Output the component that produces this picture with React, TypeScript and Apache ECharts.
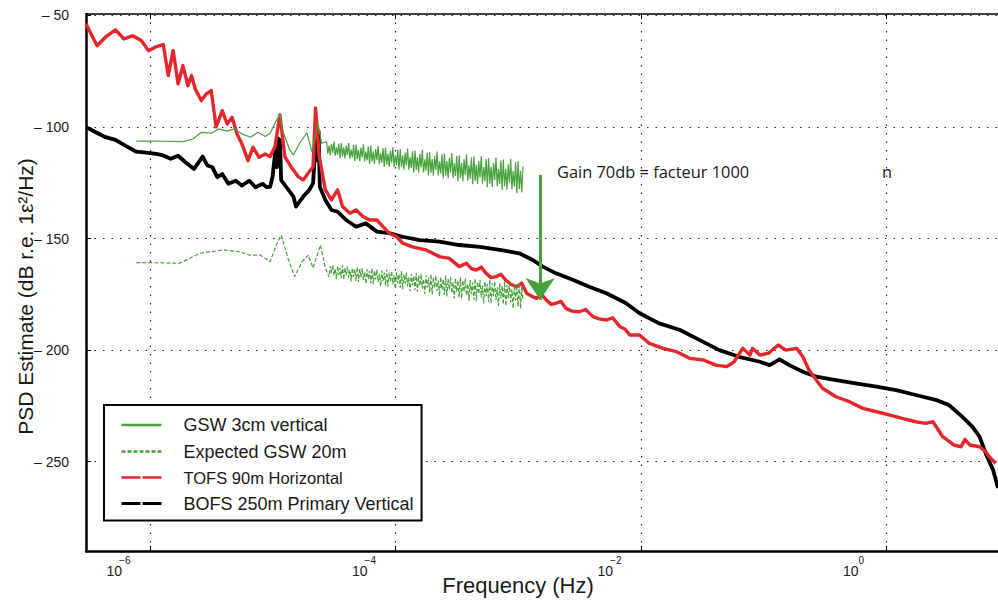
import React, { useEffect, useRef } from 'react';
import * as echarts from 'echarts';

// x values are log10(frequency / Hz), y values are dB
const xTicks = [-6, -4, -2, 0];
const xTickBase = '10';
const xTickExponents = ['−6', '−4', '−2', '0'];
const yTicks = [-250, -200, -150, -100, -50];
const yTickLabels = ['– 250', '– 200', '– 150', '– 100', '– 50'];

const seriesNames = ['GSW 3cm vertical', 'Expected GSW 20m', 'TOFS 90m Horizontal', 'BOFS 250m Primary Vertical'];

const gsw3cm = [
  [-6.11, -106.4], [-5.98, -106.3], [-5.73, -106.6], [-5.65, -105.4], [-5.58, -102.4], [-5.5, -102.8], [-5.44, -100.9],
  [-5.37, -101.9], [-5.31, -100.9], [-5.25, -103.1], [-5.18, -104.6], [-5.12, -102.4], [-5.06, -104.3], [-5.02, -102.8],
  [-4.98, -98.3], [-4.94, -94.2], [-4.92, -101.3], [-4.86, -110.3], [-4.83, -112.6], [-4.78, -107.3], [-4.72, -102.6],
  [-4.68, -111.1], [-4.63, -98.3], [-4.6, -107.3],
  [-4.56, -106.5], [-4.55, -112.0], [-4.54, -108.4], [-4.53, -112.8], [-4.52, -107.7], [-4.51, -111.5], [-4.5, -106.5],
  [-4.49, -112.9], [-4.48, -109.2], [-4.47, -112.5], [-4.46, -107.4], [-4.45, -114.0], [-4.44, -107.2], [-4.43, -113.2],
  [-4.42, -109.3], [-4.41, -114.1], [-4.4, -108.4], [-4.39, -112.6], [-4.38, -107.2], [-4.37, -114.2], [-4.36, -110.1],
  [-4.35, -113.7], [-4.34, -108.1], [-4.33, -115.3], [-4.32, -107.9], [-4.31, -114.4], [-4.3, -110.2], [-4.29, -115.4],
  [-4.28, -109.2], [-4.27, -113.7], [-4.26, -107.8], [-4.25, -115.4], [-4.24, -111.0], [-4.23, -114.9], [-4.22, -108.8],
  [-4.21, -116.6], [-4.2, -108.5], [-4.19, -115.6], [-4.18, -111.0], [-4.17, -116.6], [-4.16, -109.9], [-4.15, -114.8],
  [-4.14, -108.5], [-4.13, -116.7], [-4.12, -111.8], [-4.11, -116.0], [-4.1, -109.5], [-4.09, -117.9], [-4.08, -109.2],
  [-4.07, -116.9], [-4.06, -111.9], [-4.05, -117.9], [-4.04, -110.7], [-4.03, -116.0], [-4.02, -109.1], [-4.01, -117.9],
  [-4.0, -112.7], [-3.99, -117.2], [-3.98, -110.2], [-3.97, -119.2], [-3.96, -109.9], [-3.95, -118.1], [-3.94, -112.7],
  [-3.93, -119.2], [-3.92, -111.5], [-3.91, -117.1], [-3.9, -109.7], [-3.89, -119.2], [-3.88, -113.6], [-3.87, -118.4],
  [-3.86, -110.9], [-3.85, -120.5], [-3.84, -110.6], [-3.83, -119.3], [-3.82, -113.6], [-3.81, -120.5], [-3.8, -112.2],
  [-3.79, -118.2], [-3.78, -110.4], [-3.77, -120.4], [-3.76, -114.5], [-3.75, -119.6], [-3.74, -111.6], [-3.73, -121.8],
  [-3.72, -111.2], [-3.71, -120.5], [-3.7, -114.4], [-3.69, -121.8], [-3.68, -113.0], [-3.67, -119.3], [-3.66, -111.0],
  [-3.65, -121.6], [-3.64, -115.4], [-3.63, -120.8], [-3.62, -112.3], [-3.61, -123.1], [-3.6, -111.9], [-3.59, -121.7],
  [-3.58, -115.3], [-3.57, -123.0], [-3.56, -113.8], [-3.55, -120.5], [-3.54, -111.7], [-3.53, -122.9], [-3.52, -116.3],
  [-3.51, -122.0], [-3.5, -113.0], [-3.49, -124.4], [-3.48, -112.6], [-3.47, -122.9], [-3.46, -116.1], [-3.45, -124.3],
  [-3.44, -114.5], [-3.43, -121.6], [-3.42, -112.3], [-3.41, -124.1], [-3.4, -117.2], [-3.39, -123.2], [-3.38, -113.7],
  [-3.37, -125.7], [-3.36, -113.3], [-3.35, -124.2], [-3.34, -117.0], [-3.33, -125.6], [-3.32, -115.3], [-3.31, -122.7],
  [-3.3, -113.0], [-3.29, -125.4], [-3.28, -118.0], [-3.27, -124.3], [-3.26, -114.4], [-3.25, -127.0], [-3.24, -113.9],
  [-3.23, -125.4], [-3.22, -117.8], [-3.21, -126.9], [-3.2, -116.1], [-3.19, -123.8], [-3.18, -113.6], [-3.17, -126.6],
  [-3.16, -118.9], [-3.15, -125.5], [-3.14, -115.1], [-3.13, -128.4], [-3.12, -114.6], [-3.11, -126.6], [-3.1, -118.7],
  [-3.09, -128.1], [-3.08, -116.8], [-3.07, -125.0], [-3.06, -114.3], [-3.05, -127.9], [-3.04, -119.8], [-3.03, -126.7],
  [-3.02, -115.8], [-3.01, -129.7], [-3.0, -115.3], [-2.99, -127.8], [-2.98, -119.6], [-2.97, -129.4], [-2.96, -117.6],
];

const gswExpected = [
  [-6.11, -160.8], [-6.0, -160.8], [-5.76, -161.1], [-5.59, -156.6], [-5.4, -155.1], [-5.27, -155.9], [-5.19, -157.4],
  [-5.1, -157.4], [-5.02, -160.4], [-4.97, -152.9], [-4.93, -148.4], [-4.87, -159.6], [-4.82, -167.1], [-4.76, -160.4],
  [-4.71, -157.4], [-4.67, -163.2], [-4.61, -152.9], [-4.57, -163.2],
  [-4.54, -167.3], [-4.53, -162.3], [-4.52, -165.5], [-4.51, -161.9], [-4.5, -166.5], [-4.49, -163.4], [-4.48, -168.1],
  [-4.47, -162.4], [-4.46, -166.3], [-4.45, -163.1], [-4.44, -167.9], [-4.43, -162.0], [-4.42, -168.4], [-4.41, -163.0],
  [-4.4, -166.4], [-4.39, -162.5], [-4.38, -167.5], [-4.37, -164.2], [-4.36, -169.2], [-4.35, -163.1], [-4.34, -167.2],
  [-4.33, -163.8], [-4.32, -169.0], [-4.31, -162.7], [-4.3, -169.5], [-4.29, -163.7], [-4.28, -167.4], [-4.27, -163.2],
  [-4.26, -168.5], [-4.25, -165.0], [-4.24, -170.3], [-4.23, -163.8], [-4.22, -168.2], [-4.21, -164.5], [-4.2, -170.0],
  [-4.19, -163.3], [-4.18, -170.5], [-4.17, -164.4], [-4.16, -168.3], [-4.15, -163.9], [-4.14, -169.5], [-4.13, -165.7],
  [-4.12, -171.4], [-4.11, -164.4], [-4.1, -169.1], [-4.09, -165.3], [-4.08, -171.1], [-4.07, -163.9], [-4.06, -171.6],
  [-4.05, -165.2], [-4.04, -169.2], [-4.03, -164.5], [-4.02, -170.5], [-4.01, -166.5], [-4.0, -172.5], [-3.99, -165.1],
  [-3.98, -170.1], [-3.97, -166.0], [-3.96, -172.1], [-3.95, -164.6], [-3.94, -172.7], [-3.93, -165.9], [-3.92, -170.2],
  [-3.91, -165.2], [-3.9, -171.5], [-3.89, -167.3], [-3.88, -173.6], [-3.87, -165.8], [-3.86, -171.0], [-3.85, -166.7],
  [-3.84, -173.2], [-3.83, -165.3], [-3.82, -173.8], [-3.81, -166.6], [-3.8, -171.1], [-3.79, -165.9], [-3.78, -172.5],
  [-3.77, -168.1], [-3.76, -174.7], [-3.75, -166.5], [-3.74, -172.0], [-3.73, -167.5], [-3.72, -174.3], [-3.71, -165.9],
  [-3.7, -174.9], [-3.69, -167.3], [-3.68, -172.0], [-3.67, -166.6], [-3.66, -173.5], [-3.65, -168.8], [-3.64, -175.8],
  [-3.63, -167.2], [-3.62, -172.9], [-3.61, -168.2], [-3.6, -175.3], [-3.59, -166.6], [-3.58, -175.9], [-3.57, -168.0],
  [-3.56, -173.0], [-3.55, -167.2], [-3.54, -174.5], [-3.53, -169.6], [-3.52, -176.9], [-3.51, -167.9], [-3.5, -173.9],
  [-3.49, -168.9], [-3.48, -176.4], [-3.47, -167.2], [-3.46, -177.0], [-3.45, -168.7], [-3.44, -173.9], [-3.43, -167.9],
  [-3.42, -175.5], [-3.41, -170.4], [-3.4, -178.0], [-3.39, -168.6], [-3.38, -174.9], [-3.37, -169.7], [-3.36, -177.4],
  [-3.35, -167.9], [-3.34, -178.1], [-3.33, -169.4], [-3.32, -174.8], [-3.31, -168.6], [-3.3, -176.5], [-3.29, -171.1],
  [-3.28, -179.1], [-3.27, -169.3], [-3.26, -175.8], [-3.25, -170.4], [-3.24, -178.5], [-3.23, -168.5], [-3.22, -179.2],
  [-3.21, -170.1], [-3.2, -175.8], [-3.19, -169.2], [-3.18, -177.5], [-3.17, -171.9], [-3.16, -180.2], [-3.15, -170.0],
  [-3.14, -176.8], [-3.13, -171.1], [-3.12, -179.5], [-3.11, -169.1], [-3.1, -180.3], [-3.09, -170.8], [-3.08, -176.7],
  [-3.07, -169.9], [-3.06, -178.5], [-3.05, -172.7], [-3.04, -181.3], [-3.03, -170.7], [-3.02, -177.7], [-3.01, -171.9],
  [-3.0, -180.6], [-2.99, -169.8], [-2.98, -181.3], [-2.97, -171.5], [-2.96, -177.7],
];

const tofs90m = [
  [-6.52, -53.8], [-6.43, -63.6], [-6.36, -59.7], [-6.28, -56.5], [-6.21, -60.6], [-6.14, -59.1], [-6.07, -61.3],
  [-6.01, -65.9], [-5.95, -64.1], [-5.89, -63.1], [-5.85, -77.0], [-5.81, -65.8], [-5.77, -80.7], [-5.73, -72.5],
  [-5.69, -81.5], [-5.66, -77.0], [-5.63, -83.0], [-5.58, -88.2], [-5.54, -85.2], [-5.5, -83.7], [-5.46, -100.0],
  [-5.41, -92.7], [-5.37, -98.7], [-5.33, -95.7], [-5.29, -103.1], [-5.25, -107.6], [-5.2, -115.1], [-5.16, -109.1],
  [-5.11, -113.6], [-5.06, -112.1], [-5.02, -113.3], [-4.98, -108.8], [-4.94, -94.6], [-4.9, -113.3], [-4.85, -117.8],
  [-4.79, -122.3], [-4.75, -123.8], [-4.71, -120.8], [-4.67, -117.8], [-4.65, -91.5], [-4.62, -113.3], [-4.57, -128.2],
  [-4.52, -132.7], [-4.47, -128.2], [-4.43, -135.7], [-4.37, -138.7], [-4.32, -137.2], [-4.26, -140.2], [-4.21, -141.7],
  [-4.15, -141.7], [-4.1, -144.7], [-4.05, -147.6], [-3.99, -149.2], [-3.94, -152.1], [-3.86, -153.7], [-3.75, -155.1],
  [-3.64, -158.1], [-3.56, -158.9], [-3.48, -162.6], [-3.42, -161.1], [-3.38, -163.5], [-3.34, -164.1], [-3.3, -162.8],
  [-3.26, -165.6], [-3.22, -167.5], [-3.18, -167.1], [-3.14, -166.0], [-3.1, -168.6], [-3.06, -170.5], [-3.01, -171.6],
  [-2.97, -170.0], [-2.93, -174.5], [-2.89, -175.8], [-2.85, -176.8], [-2.81, -175.0], [-2.77, -177.5], [-2.73, -179.5],
  [-2.69, -179.0], [-2.65, -178.2], [-2.61, -181.3], [-2.56, -182.5], [-2.5, -182.8], [-2.45, -181.8], [-2.39, -185.0],
  [-2.34, -186.0], [-2.28, -186.5], [-2.23, -185.5], [-2.17, -189.5], [-2.13, -190.5], [-2.09, -193.2], [-2.01, -193.2],
  [-1.93, -197.0], [-1.82, -199.2], [-1.71, -200.7], [-1.6, -203.7], [-1.49, -204.4], [-1.39, -206.7], [-1.3, -207.4],
  [-1.24, -205.2], [-1.17, -199.2], [-1.11, -202.2], [-1.09, -199.2], [-1.03, -202.2], [-0.96, -201.4], [-0.88, -197.7],
  [-0.82, -200.0], [-0.73, -199.2], [-0.68, -203.0], [-0.63, -208.9], [-0.57, -213.4], [-0.52, -217.1], [-0.41, -220.9],
  [-0.3, -223.1], [-0.19, -226.1], [-0.08, -227.6], [0.03, -229.1], [0.13, -230.6], [0.24, -232.1], [0.32, -232.8],
  [0.38, -232.1], [0.46, -238.8], [0.55, -242.5], [0.61, -243.3], [0.64, -240.0], [0.68, -242.5], [0.76, -243.3],
  [0.81, -245.5], [0.84, -247.8], [0.89, -250.7],
];

const bofs250m = [
  [-6.52, -100.1], [-6.44, -102.4], [-6.36, -104.6], [-6.28, -105.8], [-6.2, -108.4], [-6.11, -111.1], [-6.03, -111.5],
  [-5.95, -112.1], [-5.9, -112.6], [-5.83, -114.3], [-5.77, -112.9], [-5.71, -115.8], [-5.64, -118.8], [-5.57, -113.3],
  [-5.53, -117.3], [-5.49, -118.1], [-5.45, -122.5], [-5.41, -121.1], [-5.36, -125.5], [-5.3, -124.1], [-5.25, -126.3],
  [-5.19, -124.1], [-5.14, -127.0], [-5.08, -125.5], [-5.05, -127.0], [-5.02, -126.8], [-5.0, -122.3], [-4.98, -112.0],
  [-4.97, -106.6], [-4.965, -118.0], [-4.955, -105.1], [-4.945, -116.0], [-4.94, -105.8], [-4.93, -123.8], [-4.89, -126.8],
  [-4.83, -131.2], [-4.81, -135.7], [-4.75, -131.2], [-4.7, -128.2], [-4.67, -125.2], [-4.655, -112.0], [-4.645, -99.5],
  [-4.635, -115.0], [-4.625, -102.0], [-4.615, -126.8], [-4.57, -132.7], [-4.52, -137.2], [-4.47, -138.0], [-4.4, -141.7],
  [-4.32, -144.7], [-4.24, -143.2], [-4.15, -146.9], [-4.05, -147.6], [-3.94, -149.2], [-3.8, -150.7], [-3.64, -151.4],
  [-3.48, -152.9], [-3.31, -153.7], [-3.15, -155.1], [-2.99, -156.6], [-2.88, -159.6], [-2.8, -162.6], [-2.69, -165.6],
  [-2.55, -168.6], [-2.42, -171.6], [-2.28, -174.5], [-2.12, -179.0], [-2.01, -183.5], [-1.85, -188.0], [-1.68, -191.0],
  [-1.52, -195.5], [-1.36, -200.0], [-1.2, -203.0], [-1.03, -205.2], [-0.95, -206.7], [-0.87, -204.1], [-0.79, -206.7],
  [-0.68, -209.7], [-0.57, -211.9], [-0.41, -213.4], [-0.25, -214.9], [-0.08, -216.4], [0.08, -217.9], [0.24, -220.1],
  [0.41, -222.4], [0.51, -224.6], [0.62, -229.9], [0.7, -234.3], [0.76, -238.8], [0.81, -246.3], [0.87, -253.7],
  [0.91, -261.8],
];

const gainArrowX = -2.82;
const gainArrowDb = [-121.5, -177.5];
const gainText = 'Gain 70db = facteur 1000';

const GREEN = '#46a23b';
const RED = '#e5262b';
const BLACK = '#000000';
const FONT = '"Liberation Sans", Arial, Helvetica, sans-serif';

export default function App() {
  const ref = useRef<HTMLDivElement>(null);
  useEffect(() => {
    if (!ref.current) return;
    const chart = echarts.init(ref.current, undefined, { renderer: 'svg' });
    const X_MIN = -6.52;
    const X_MAX = 0.91;
    const dotted = { color: '#222', width: 1.2, type: [1.5, 7] as number[] };
    const option: any = {
      animation: false,
      backgroundColor: '#ffffff',
      textStyle: { fontFamily: FONT },
      grid: { left: 86, top: 14, right: 0, bottom: 50, containLabel: false, outerBoundsMode: 'none' },
      xAxis: [
        {
          type: 'value',
          min: X_MIN,
          max: X_MAX,
          position: 'bottom',
          name: 'Frequency (Hz)',
          nameLocation: 'middle',
          nameGap: 23,
          nameMoveOverlap: false,
          nameTextStyle: { fontSize: 22, color: '#1a1a1a', fontFamily: FONT, padding: [0, 48, 0, 0] },
          axisLine: { show: true, onZero: false, lineStyle: { color: BLACK, width: 2.5 } },
          axisTick: { show: true, inside: true, length: 5, customValues: xTicks, lineStyle: { color: BLACK, width: 1 } },
          axisLabel: {
            customValues: xTicks,
            margin: 13,
            fontSize: 14,
            color: '#1a1a1a',
            fontFamily: FONT,
            padding: [0, 71, 0, 0],
            formatter: () => xTickBase,
          },
          splitLine: { show: true, lineStyle: dotted },
        },
        {
          type: 'value',
          min: X_MIN,
          max: X_MAX,
          position: 'top',
          axisLine: { show: true, onZero: false, lineStyle: { color: BLACK, width: 1.5 } },
          axisTick: { show: true, inside: true, length: 5, customValues: xTicks, lineStyle: { color: BLACK, width: 1 } },
          axisLabel: { show: false },
          splitLine: { show: false },
        },
        {
          type: 'value',
          min: X_MIN,
          max: X_MAX,
          position: 'bottom',
          axisLine: { show: false, onZero: false },
          axisTick: { show: false, customValues: xTicks },
          axisLabel: {
            customValues: xTicks,
            margin: 4,
            fontSize: 10,
            color: '#1a1a1a',
            fontFamily: FONT,
            padding: [0, 50, 0, 0],
            formatter: (v: number) => {
              const i = xTicks.indexOf(Math.round(v));
              return i >= 0 ? xTickExponents[i] : '';
            },
          },
          splitLine: { show: false },
        },
      ],
      yAxis: {
        type: 'value',
        min: -290,
        max: -49.4,
        name: 'PSD Estimate (dB r.e. 1ε²/Hz)',
        nameLocation: 'middle',
        nameGap: 50,
        nameMoveOverlap: false,
        nameTextStyle: { fontSize: 21, color: '#1a1a1a', fontFamily: FONT, padding: [0, 28, 0, 0] },
        axisLine: { show: true, onZero: false, lineStyle: { color: BLACK, width: 2.5 } },
        axisTick: { show: true, inside: true, length: 5, customValues: yTicks, lineStyle: { color: BLACK, width: 1 } },
        axisLabel: {
          customValues: yTicks,
          margin: 17,
          fontSize: 14,
          color: '#1a1a1a',
          fontFamily: FONT,
          formatter: (v: number) => {
            const i = yTicks.indexOf(Math.round(v));
            return i >= 0 ? yTickLabels[i] : '';
          },
        },
        splitLine: { show: true, lineStyle: dotted },
      },
      legend: {
        left: 104,
        top: 405,
        orient: 'vertical',
        selectedMode: false,
        padding: [11, 8, 8, 16],
        itemGap: 8.5,
        itemWidth: 40,
        itemHeight: 16,
        borderColor: BLACK,
        borderWidth: 2,
        backgroundColor: '#ffffff',
        itemStyle: { opacity: 0 },
        textStyle: { fontSize: 18, lineHeight: 16, color: '#1a1a1a', fontFamily: FONT, padding: [0, 0, 0, 17] },
        data: [
          { name: seriesNames[0], lineStyle: { width: 2.5 } },
          { name: seriesNames[1], lineStyle: { width: 2.5 } },
          { name: seriesNames[2], lineStyle: { width: 2.5, type: [19, 2] }, textStyle: { fontSize: 16.5 } },
          { name: seriesNames[3], lineStyle: { width: 3, type: [19, 2] } },
        ],
      },
      graphic: [
        { type: 'text', left: 557, top: 163, silent: true, style: { text: gainText, font: '16.4px "Open Sans", sans-serif', fill: '#1a1a1a' } },
        { type: 'text', left: 882, top: 163, silent: true, style: { text: 'n', font: '16.4px "Open Sans", sans-serif', fill: '#1a1a1a' } },
      ],
      series: [
        {
          name: seriesNames[3], type: 'line', data: bofs250m, showSymbol: false, symbol: 'none', silent: true,
          lineStyle: { color: BLACK, width: 3.8, join: 'round' }, itemStyle: { color: BLACK }, z: 2,
        },
        {
          name: seriesNames[2], type: 'line', data: tofs90m, showSymbol: false, symbol: 'none', silent: true,
          lineStyle: { color: RED, width: 3.4, join: 'round' }, itemStyle: { color: RED }, z: 3,
        },
        {
          name: seriesNames[0], type: 'line', data: gsw3cm, showSymbol: false, symbol: 'none', silent: true,
          lineStyle: { color: GREEN, width: 1.2 }, itemStyle: { color: GREEN }, z: 4,
          markLine: {
            silent: true,
            symbol: ['none', 'arrow'],
            symbolSize: 22,
            label: { show: false },
            emphasis: { disabled: true },
            lineStyle: { color: GREEN, width: 3, type: 'solid' },
            data: [[{ coord: [gainArrowX, gainArrowDb[0]] }, { coord: [gainArrowX, gainArrowDb[1]] }]],
          },
        },
        {
          name: seriesNames[1], type: 'line', data: gswExpected, showSymbol: false, symbol: 'none', silent: true,
          lineStyle: { color: GREEN, width: 1.2, type: [4, 2] }, itemStyle: { color: GREEN }, z: 4,
        },
      ],
    };
    chart.setOption(option);
    return () => chart.dispose();
  }, []);
  return <div ref={ref} style={{ position: 'fixed', left: 0, top: 0, width: 998, height: 601, background: '#fff' }} />;
}
